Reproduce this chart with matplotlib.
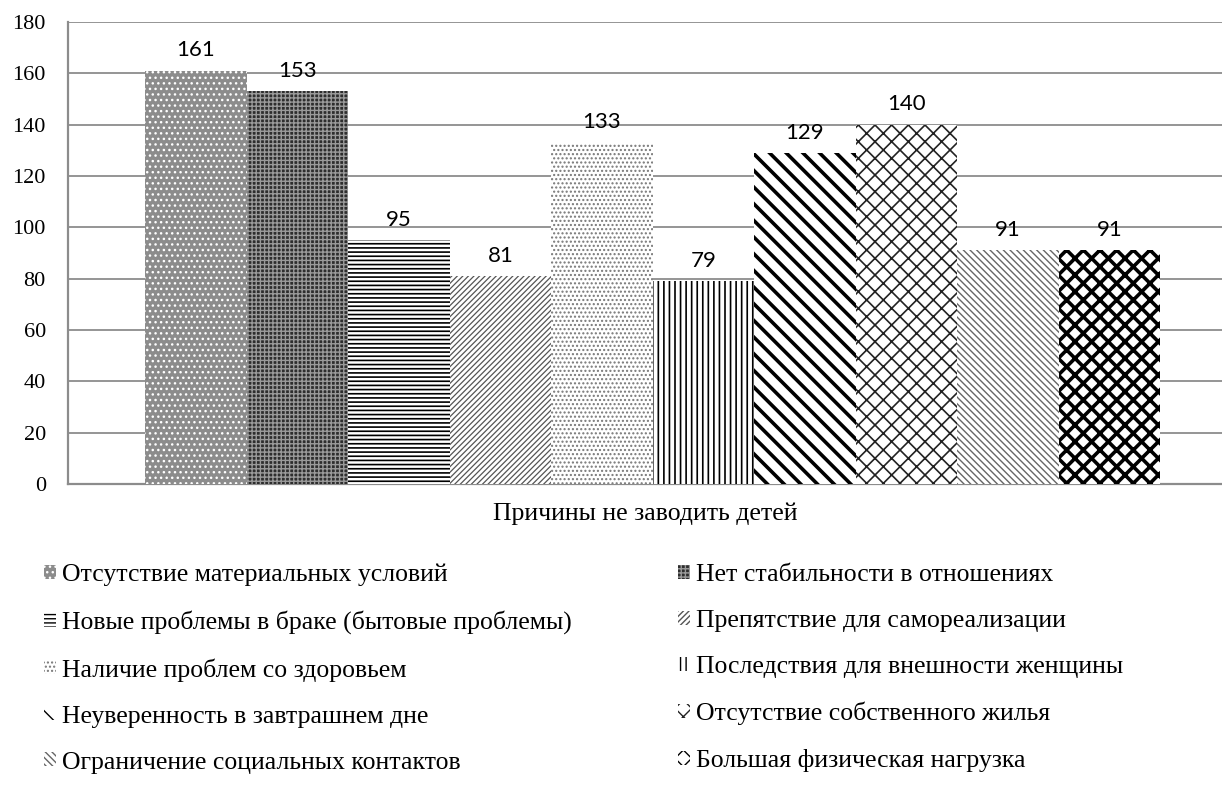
import numpy as np
import matplotlib.pyplot as plt

plt.rcParams['font.family'] = ['Liberation Serif', 'DejaVu Serif']

# данные
reasons = ['Отсутствие материальных условий',
           'Нет стабильности в отношениях',
           'Новые проблемы в браке (бытовые проблемы)',
           'Препятствие для самореализации',
           'Наличие проблем со здоровьем',
           'Последствия для внешности женщины',
           'Неуверенность в завтрашнем дне',
           'Отсутствие собственного жилья',
           'Ограничение социальных контактов',
           'Большая физическая нагрузка']
counts = [161, 153, 95, 81, 133, 79, 129, 140, 91, 91]
y_ticks = [0, 20, 40, 60, 80, 100, 120, 140, 160, 180]
x_title = 'Причины не заводить детей'

# (facecolor, hatch colour, hatch, hatch lw)
styles = [('#8c8c8c', 'white', '...', 1.0),
          ('#2e2e2e', '#9a9a9a', '++++', 1.0),
          ('white', 'black', '----', 1.2),
          ('white', '#555555', '//////', 0.9),
          ('white', '#777777', '....', 1.0),
          ('white', 'black', '|||', 1.2),
          ('white', 'black', '\\\\', 2.6),
          ('white', '#222222', 'xx', 1.2),
          ('white', '#666666', '\\\\\\\\\\', 1.0),
          ('white', 'black', 'xx', 2.6)]

fig = plt.figure(figsize=(12.22, 7.85), dpi=100)
ax = fig.add_axes([68/1222, 1 - 484/785, 1 - 68/1222, (484 - 22)/785])

n = len(counts)
w = 1.0 / n
bars = []
for i in range(n):
    fc, hc, h, hlw = styles[i]
    x = -0.5 + w/2 + i*w
    b = ax.bar(x, counts[i], width=w, color=fc, edgecolor=hc, hatch=h,
               linewidth=0, label=reasons[i], zorder=3)
    for p in b:
        if hasattr(p, 'set_hatch_linewidth'):
            p.set_hatch_linewidth(hlw)
    bars.append(b)
    ax.text(x, counts[i] + 4, str(counts[i]), ha='center', va='bottom',
            fontsize=16, family='Lato', zorder=4)

ax.set_xlim(-0.576, 0.561)
ax.set_ylim(0, 180)
ax.set_yticks(y_ticks)
ax.tick_params(axis='y', labelsize=16, length=0, pad=16)
ax.set_xticks([])
ax.grid(axis='y', color='#8c8c8c', linewidth=1.3, zorder=0)
for s in ['top', 'right']:
    ax.spines[s].set_visible(False)
for s in ['left', 'bottom']:
    ax.spines[s].set_color('#8c8c8c')
    ax.spines[s].set_linewidth(1.6)
ax.set_xlabel(x_title, fontsize=18.5, labelpad=13)

left = [0, 2, 4, 6, 8]
right = [1, 3, 5, 7, 9]
legkw = dict(loc='upper left', frameon=False, fontsize=18.5,
             handlelength=0.45, handleheight=0.45, handletextpad=0.25,
             labelspacing=0.93, borderpad=0, borderaxespad=0)
leg1 = fig.legend([bars[i] for i in left], [reasons[i] for i in left],
                  bbox_to_anchor=(44/1222, 1 - 564/785), **legkw)
leg2 = fig.legend([bars[i] for i in right], [reasons[i] for i in right],
                  bbox_to_anchor=(678/1222, 1 - 564/785), **legkw)

fig.savefig('out.png', dpi=100)
